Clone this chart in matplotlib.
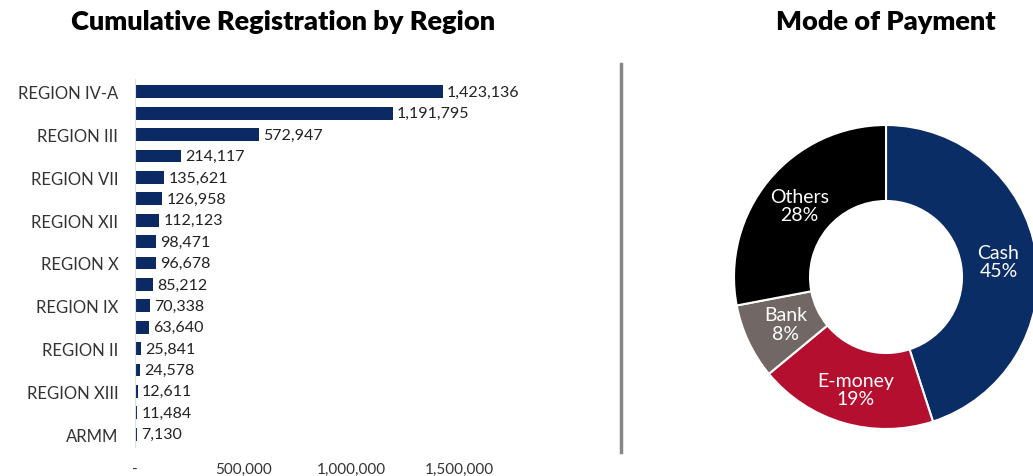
import matplotlib.pyplot as plt
import matplotlib.ticker as mticker
from matplotlib.lines import Line2D

# registrations by region (top to bottom as shown)
regions = ['REGION IV-A', 'NCR', 'REGION III', 'REGION VI', 'REGION VII', 'REGION V',
           'REGION XII', 'REGION XI', 'REGION X', 'REGION I', 'REGION IX', 'REGION VIII',
           'REGION II', 'CAR', 'REGION XIII', 'MIMAROPA', 'ARMM']
registrations = [1423136, 1191795, 572947, 214117, 135621, 126958, 112123, 98471,
                 96678, 85212, 70338, 63640, 25841, 24578, 12611, 11484, 7130]
shown_labels = ['REGION IV-A', 'REGION III', 'REGION VII', 'REGION XII', 'REGION X',
                'REGION IX', 'REGION II', 'REGION XIII', 'ARMM']
x_ticks = [0, 500000, 1000000, 1500000]

# mode of payment
pay_labels = ['Cash', 'E-money', 'Bank', 'Others']
pay_share = [45, 19, 8, 28]
pay_colors = ['#0b2d66', '#b50f2f', '#716866', '#000000']

plt.rcParams['font.family'] = ['Lato', 'DejaVu Sans']

fig = plt.figure(figsize=(10.33, 4.77), dpi=100)
W, H = 1033, 477

# ---- bar chart
n = len(regions)
ax = fig.add_axes([135 / W, 1 - 448 / H, 375 / W, 368 / H])
ypos = list(range(n))
ax.barh(ypos, registrations, height=0.6, color='#0b2a63')
ax.set_ylim(n - 0.4, -0.6)
ax.set_xlim(0, 1733000)
ax.set_yticks([i for i, r in enumerate(regions) if r in shown_labels])
ax.set_yticklabels([r for r in regions if r in shown_labels], fontsize=12, color='#333333')
ax.set_xticks(x_ticks)
ax.xaxis.set_major_formatter(mticker.FuncFormatter(lambda v, p: '-' if v == 0 else f'{int(v):,}'))
ax.tick_params(axis='both', length=0, labelsize=11, colors='#333333')
ax.tick_params(axis='y', pad=12, labelsize=12)
ax.tick_params(axis='x', pad=11)
for s in ['top', 'right', 'bottom']:
    ax.spines[s].set_visible(False)
ax.spines['left'].set_color('#e0e0e0')
for y, v in zip(ypos, registrations):
    ax.annotate(f'{v:,}', (v, y), xytext=(3, 0), textcoords='offset points',
                va='center', ha='left', fontsize=11.5, color='#222222')

fig.text(283 / W, 1 - 22 / H, 'Cumulative Registration by Region', ha='center', va='center',
         fontsize=19.5, fontweight='heavy')
fig.text(886 / W, 1 - 22 / H, 'Mode of Payment', ha='center', va='center',
         fontsize=19.5, fontweight='heavy')

# divider
fig.add_artist(Line2D([621 / W, 621 / W], [1 - 65 / H, 1 - 453 / H], color='#888888', lw=2.5))

# ---- donut
r_px = 152
pax = fig.add_axes([(886 - r_px) / W, 1 - (278 + r_px) / H, 2 * r_px / W, 2 * r_px / H])
wedges, _ = pax.pie(pay_share, colors=pay_colors, startangle=90, counterclock=False,
                    radius=1, wedgeprops=dict(width=0.5, edgecolor='white', linewidth=1.5))
pax.set_xlim(-1, 1)
pax.set_ylim(-1, 1)
pax.set_aspect('equal')
label_pos = {'Cash': (0.74, 0.1), 'E-money': (-0.2, -0.74), 'Bank': (-0.66, -0.31),
             'Others': (-0.57, 0.47)}
for lab, val in zip(pay_labels, pay_share):
    x, y = label_pos[lab]
    pax.text(x, y, f'{lab}\n{val}%', ha='center', va='center', color='white',
             fontsize=14, linespacing=1.1)

fig.savefig('out.png', dpi=100)
